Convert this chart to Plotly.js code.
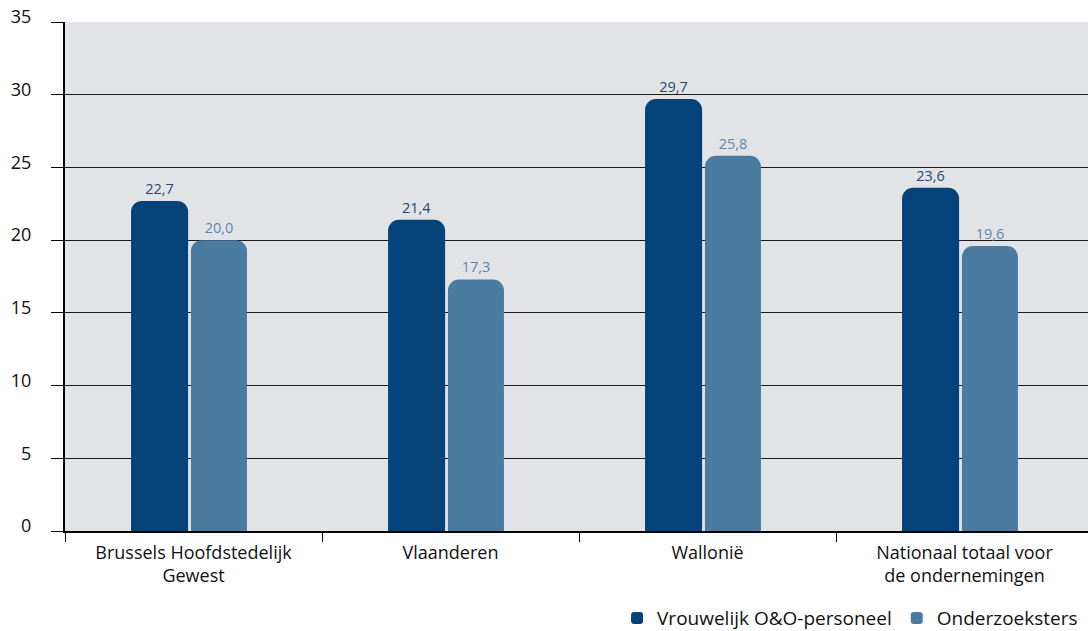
<!DOCTYPE html>
<html>
<head>
<meta charset="utf-8">
<script src="https://cdn.plot.ly/plotly-3.0.1.min.js"></script>
<style>
html, body { margin: 0; padding: 0; overflow: hidden; background: #ffffff; }
#chart { width: 1093px; height: 631px; }
</style>
</head>
<body>
<div id="chart"></div>
<script>
const categories = ["Brussels Hoofdstedelijk<br>Gewest", "Vlaanderen", "Wallonië", "Nationaal totaal voor<br>de ondernemingen"];
const seriesNames = ["Vrouwelijk O&O-personeel", "Onderzoeksters"];
const vrouwelijk = [22.7, 21.4, 29.7, 23.6];
const onderzoeksters = [20.0, 17.3, 25.8, 19.6];
const yTicks = [0, 5, 10, 15, 20, 25, 30, 35];

const darkBlue = "#03437a";
const lightBlue = "#4c7ba2";

const traces = [
  {
    type: "bar", name: seriesNames[0], x: categories, y: vrouwelijk,
    width: 0.222, offset: -0.243,
    marker: { color: darkBlue, cornerradius: 11 },
    texttemplate: "%{y:.1f}", textposition: "outside", cliponaxis: false,
    textfont: { family: "Open Sans, sans-serif", size: 14.5, color: "#1b4a78" },
    hoverinfo: "none"
  },
  {
    type: "bar", name: seriesNames[1], x: categories, y: onderzoeksters,
    width: 0.218, offset: -0.01,
    marker: { color: lightBlue, cornerradius: 11 },
    texttemplate: "%{y:.1f}", textposition: "outside", cliponaxis: false,
    textfont: { family: "Open Sans, sans-serif", size: 14.5, color: "#5b87ad" },
    hoverinfo: "none"
  }
];

const layout = {
  width: 1093, height: 631,
  margin: { l: 65, r: 0, t: 22, b: 100, autoexpand: false },
  paper_bgcolor: "#ffffff",
  plot_bgcolor: "#e2e3e6",
  separators: ",.",
  barmode: "group",
  font: { family: "Open Sans, sans-serif", color: "#111111" },
  showlegend: true,
  legend: {
    orientation: "h", x: 0.537, xanchor: "left", y: -0.171, yanchor: "middle",
    font: { size: 19, color: "#111111" }, bgcolor: "rgba(0,0,0,0)",
    itemwidth: 30, traceorder: "normal"
  },
  xaxis: {
    type: "category",
    range: [-0.5, 3.5],
    automargin: false,
    showline: true, linecolor: "#000000", linewidth: 2,
    ticks: "outside", tickson: "boundaries", ticklen: 9, tickcolor: "#000000", tickwidth: 1,
    ticklabelstandoff: 4,
    tickfont: { size: 18, color: "#111111" },
    showgrid: false, zeroline: false
  },
  yaxis: {
    range: [0, 35],
    automargin: false,
    tickvals: yTicks,
    showline: true, linecolor: "#000000", linewidth: 2,
    ticks: "outside", ticklen: 12, tickcolor: "#000000", tickwidth: 1,
    ticklabelstandoff: 16,
    ticklabelshift: -5,
    tickfont: { size: 18, color: "#111111" },
    showgrid: true, gridcolor: "#1a1a1a", gridwidth: 1.2,
    zeroline: false
  }
};

Plotly.newPlot("chart", traces, layout, { displayModeBar: false, staticPlot: true });
</script>
</body>
</html>
